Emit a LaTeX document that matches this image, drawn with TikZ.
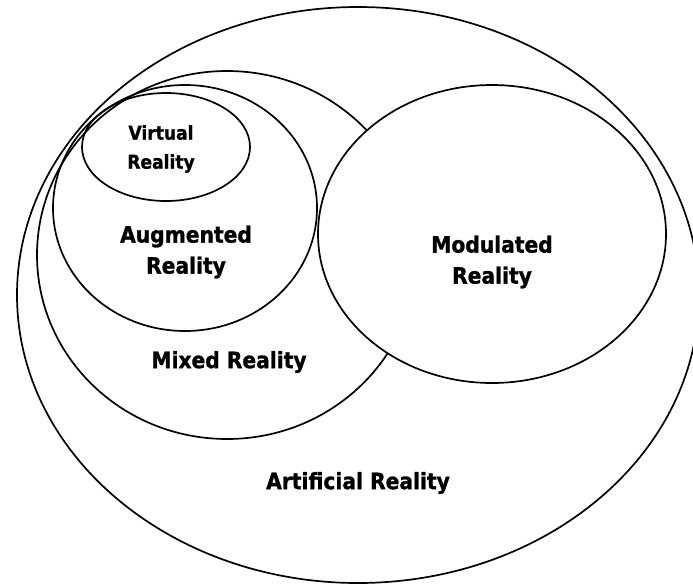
\documentclass[tikz,border=0pt]{standalone}
\usepackage{fontspec}
\setmainfont{DejaVu Sans}[FakeStretch=0.9, BoldFeatures={FakeBold=1.2}]
\tikzstyle{region} = [line width=1.7pt, draw=black]
\tikzstyle{realm} = [font=\bfseries\fontsize{22.5}{31}\selectfont, align=center, inner sep=0pt]
\newcommand{\smallrealm}{\fontsize{19}{29}\selectfont}

\begin{document}
\begin{tikzpicture}[x=1pt, y=-1pt]
  \useasboundingbox (0,0) rectangle (693,584);
  \clip (0,0) rectangle (693,584);

  % Outer set
  \draw [region] (358,295) ellipse (341 and 288);

  % Mixed, cut off by the modulated set
  \draw [region] (227,255) ellipse (190 and 184);

  % Modulated set, filled to hide the mixed outline
  \draw [region, fill=white] (492,234) ellipse (174 and 149);

  % Inner sets
  \draw [region] (185,208) ellipse (132 and 123);
  \draw [region] (166,147) ellipse (84 and 54);

  % Labels
  \node [realm, font=\bfseries\smallrealm] (virtual) at (161,149) {Virtual\\Reality};
  \node [realm] (augmented) at (186,252) {Augmented\\Reality};
  \node [realm] (modulated) at (492,262) {Modulated\\Reality};
  \node [realm] (mixed) at (229,362) {Mixed Reality};
  \node [realm] (artificial) at (358,483) {Artificial Reality};

\end{tikzpicture}
\end{document}
